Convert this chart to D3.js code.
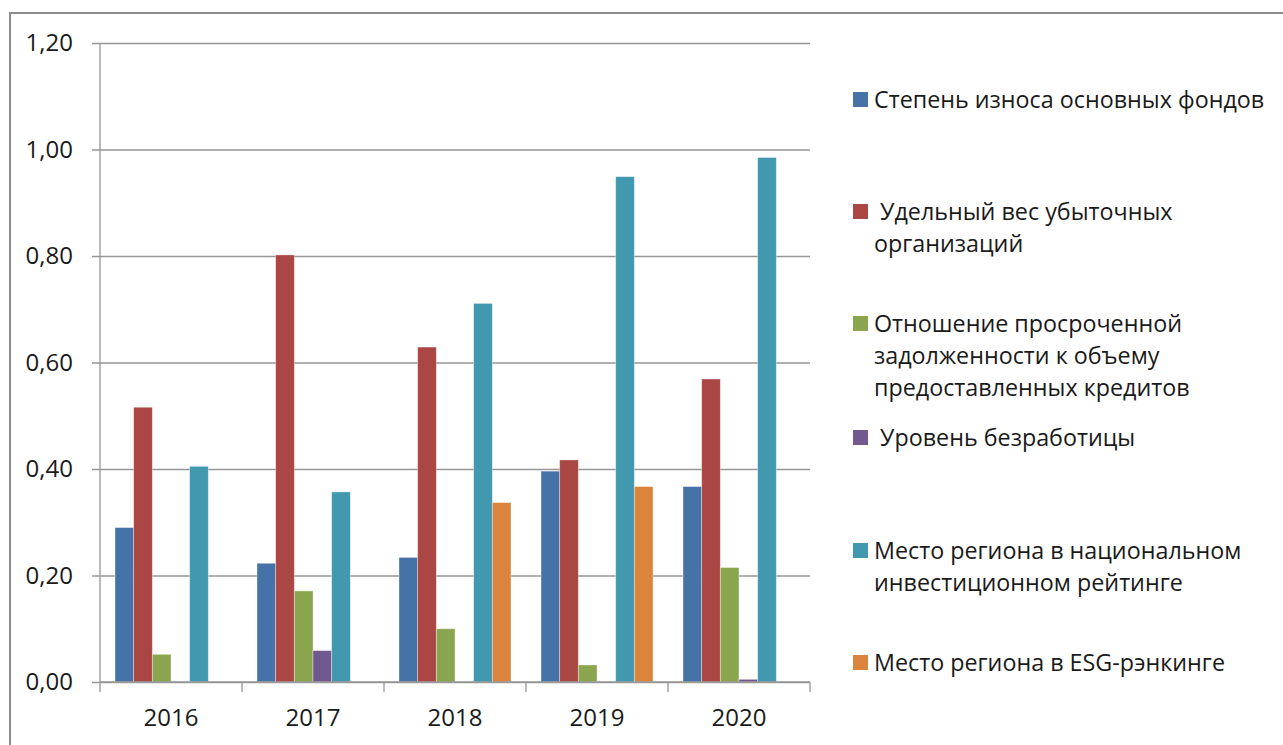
<!DOCTYPE html>
<html>
<head>
<meta charset="utf-8">
<script src="https://cdn.jsdelivr.net/npm/d3@7"></script>
<style>
  body { margin: 0; background: #fff; }
  svg text { font-family: "Open Sans", "Noto Sans", sans-serif; fill: #1a1a1a; }
</style>
</head>
<body>
<div id="chart"></div>
<script>
// categories and series
var years = ["2016", "2017", "2018", "2019", "2020"];
var seriesNames = [
  "Степень износа основных фондов",
  " Удельный вес убыточных|организаций",
  "Отношение просроченной|задолженности к объему|предоставленных кредитов",
  " Уровень безработицы",
  "Место региона в национальном|инвестиционном рейтинге",
  "Место региона в ESG-рэнкинге"
];
var iznos = [0.29, 0.223, 0.234, 0.396, 0.367];
var ubytochnye = [0.516, 0.802, 0.629, 0.417, 0.569];
var prosrochka = [0.052, 0.171, 0.100, 0.032, 0.215];
var bezrabotica = [0, 0.059, 0, 0, 0.005];
var investReiting = [0.405, 0.357, 0.711, 0.949, 0.985];
var esgRanking = [0, 0, 0.337, 0.367, 0];
var yTicks = [0, 0.2, 0.4, 0.6, 0.8, 1.0, 1.2];

var colors = ["#4572A7", "#AA4643", "#89A54E", "#71588F", "#4198AF", "#DB843D"];
var allSeries = [iznos, ubytochnye, prosrochka, bezrabotica, investReiting, esgRanking];

var svgWidth = 1283, svgHeight = 745;
var margin = { top: 43, left: 100 };
var width = 710, height = 639;

var svg = d3.select("#chart").append("svg")
  .attr("width", svgWidth)
  .attr("height", svgHeight);

// outer frame (top and left edges visible)
svg.append("path")
  .attr("d", "M10,745 V13 H1283")
  .attr("fill", "none")
  .attr("stroke", "#8c8c8c")
  .attr("stroke-width", 2);

var chartGroup = svg.append("g")
  .attr("transform", `translate(${margin.left}, ${margin.top})`);

// scales
var x0 = d3.scaleBand().domain(years).range([0, width]).paddingInner(0).paddingOuter(0);
var x1 = d3.scaleBand().domain(d3.range(6)).range([15, x0.bandwidth() - 15]);
var y = d3.scaleLinear().domain([0, 1.2]).range([height, 0]);

// gridlines + y labels
var fmt = function(d) { return d3.format(".2f")(d).replace(".", ","); };
var yAxis = d3.axisLeft(y).tickValues(yTicks).tickFormat(fmt).tickSize(-width - 8).tickPadding(19);
var yG = chartGroup.append("g")
  .attr("transform", "translate(-8,0)")
  .call(yAxis);
yG.select(".domain").remove();
yG.selectAll(".tick line").attr("stroke", "#969696").attr("stroke-width", 1.3);
yG.selectAll(".tick text").attr("font-size", 24).attr("font-family", "Open Sans").attr("fill", "#1a1a1a");

// bars
years.forEach(function(yr, i) {
  var g = chartGroup.append("g").attr("transform", `translate(${x0(yr)},0)`);
  g.selectAll("rect")
    .data(allSeries.map(function(s, k) { return { k: k, v: s[i] }; }).filter(function(d) { return d.v > 0; }))
    .enter()
    .append("rect")
    .attr("x", function(d) { return x1(d.k); })
    .attr("width", x1.bandwidth())
    .attr("y", function(d) { return y(d.v); })
    .attr("height", function(d) { return height - y(d.v); })
    .attr("fill", function(d) { return colors[d.k]; })
    .attr("stroke", "rgba(255,255,255,0.45)")
    .attr("stroke-width", 0.8);
});

// y axis line
chartGroup.append("line")
  .attr("x1", 0).attr("x2", 0).attr("y1", 0).attr("y2", height)
  .attr("stroke", "#969696").attr("stroke-width", 1.3);

// x axis with ticks at category boundaries
var xG = chartGroup.append("g").attr("transform", `translate(0,${height})`);
xG.append("line").attr("x1", 0).attr("x2", width).attr("stroke", "#969696").attr("stroke-width", 1.3);
xG.selectAll("line.tk")
  .data(years.concat(["end"]))
  .enter().append("line")
  .attr("class", "tk")
  .attr("x1", function(d, i) { return i * x0.bandwidth(); })
  .attr("x2", function(d, i) { return i * x0.bandwidth(); })
  .attr("y1", 0).attr("y2", 10)
  .attr("stroke", "#969696").attr("stroke-width", 1.3);
xG.selectAll("text")
  .data(years)
  .enter().append("text")
  .attr("x", function(d) { return x0(d) + x0.bandwidth() / 2; })
  .attr("y", 44)
  .attr("text-anchor", "middle")
  .attr("font-size", 24)
  .text(function(d) { return d; });

// legend
var legendY = [100, 212, 324, 438, 551, 663];
var legend = svg.append("g");
seriesNames.forEach(function(name, k) {
  var item = legend.append("g").attr("transform", `translate(853,${legendY[k]})`);
  item.append("rect")
    .attr("x", 0).attr("y", -8)
    .attr("width", 15).attr("height", 15)
    .attr("fill", colors[k]);
  var t = item.append("text")
    .attr("x", 21)
    .attr("y", 8)
    .attr("font-size", 23.3)
    .style("white-space", "pre");
  name.split("|").forEach(function(line, j) {
    t.append("tspan").attr("x", 21).attr("dy", j === 0 ? 0 : 32).text(line);
  });
});
</script>
</body>
</html>
